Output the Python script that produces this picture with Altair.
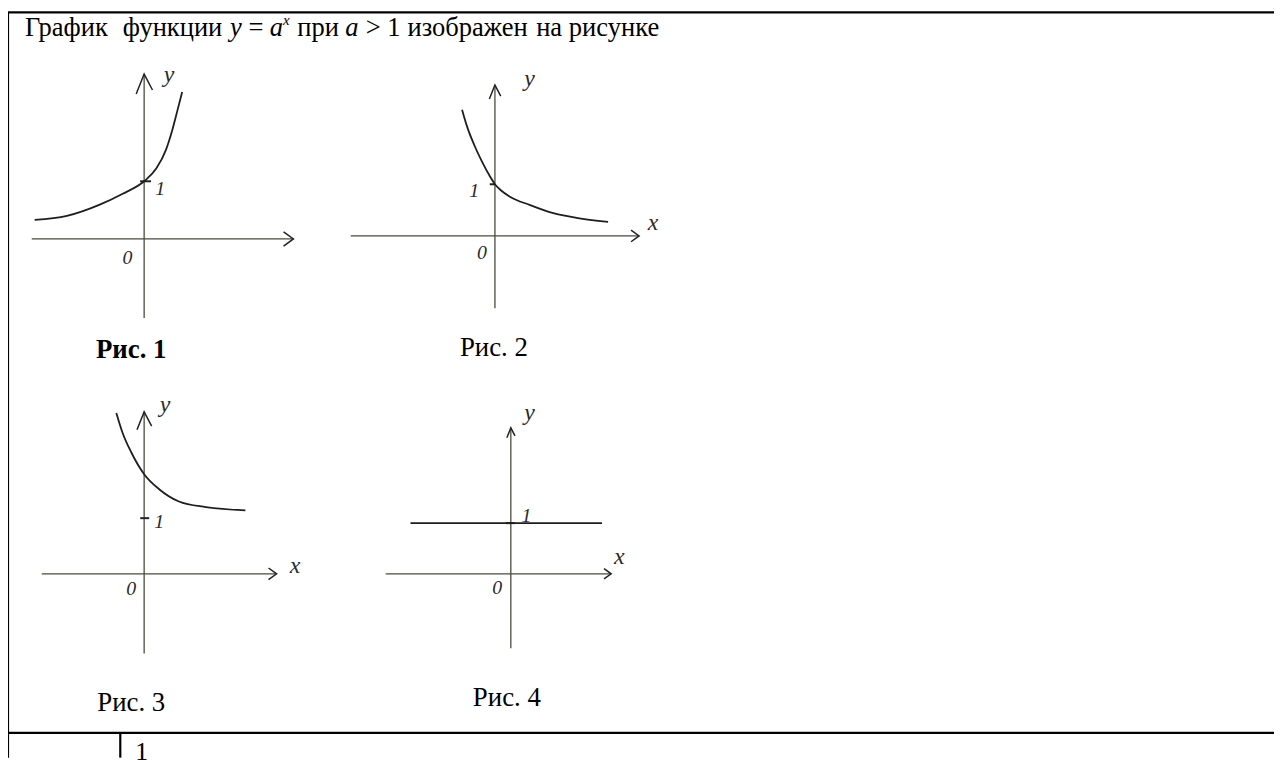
import altair as alt
import pandas as pd

# ---------------- data ----------------
# curve points of each sketch, in the sketch's own units (1 = the "1" mark on the y axis)
fig1_x = [-1.90, -1.34, -0.78, -0.38, 0.00, 0.21, 0.38, 0.48, 0.57, 0.66]
fig1_y = [0.33, 0.40, 0.59, 0.78, 1.00, 1.22, 1.55, 1.86, 2.20, 2.55]
fig2_x = [-0.635, -0.54, -0.40, -0.25, -0.10, 0.00, 0.12, 0.29, 0.67, 1.13, 1.58, 2.19]
fig2_y = [2.44, 2.12, 1.76, 1.44, 1.16, 1.00, 0.88, 0.76, 0.60, 0.44, 0.35, 0.27]
fig3_x = [-0.50, -0.39, -0.23, 0.00, 0.27, 0.625, 1.11, 1.82]
fig3_y = [2.89, 2.54, 2.18, 1.79, 1.52, 1.30, 1.20, 1.14]
fig4_x = [-1.98, 1.80]
fig4_y = [1.00, 1.00]

# axis extents of each sketch
axis_x_min = [-1.95, -2.79, -1.84, -2.47]
axis_x_max = [2.59, 2.79, 2.38, 1.98]
axis_y_min = [-1.37, -1.40, -1.43, -1.47]
axis_y_max = [2.86, 2.92, 2.91, 2.88]

# short mark at y = 1 on each y axis
tick_x0 = [-0.07, -0.10, -0.07, -0.10]
tick_x1 = [0.12, 0.00, 0.09, 0.08]

# hand-written labels
label_fig = [0, 0, 0, 1, 1, 1, 1, 2, 2, 2, 2, 3, 3, 3, 3]
label_text = ["1", "0", "y", "1", "0", "y", "x", "1", "0", "y", "x", "1", "0", "y", "x"]
label_x = [0.28, -0.29, 0.43, -0.40, -0.25, 0.67, 3.06, 0.27, -0.23, 0.375, 2.71, 0.31, -0.27, 0.37, 2.14]
label_y = [0.86, -0.34, 2.84, 0.87, -0.33, 3.04, 0.25, 0.93, -0.27, 3.04, 0.14, 1.14, -0.29, 3.18, 0.33]

captions = ["Рис. 1", "Рис. 2", "Рис. 3", "Рис. 4"]

title_words = ["График", "функции", "y", "=", "a", "x", "при", "a", ">", "1",
               "изображен", "на", "рисунке"]
title_kind = ["r", "r", "i", "r", "i", "s", "r", "i", "r", "r", "r", "r", "r"]
answer_text = ["1"]

# ---------------- page layout (px) ----------------
origin_x = [145, 498, 145, 514]
origin_y = [238, 235, 575, 575]
unit = [58, 52, 56, 51]
up_arrow_r = [20, 14, 18, 10]
right_arrow_r = [11, 9, 9, 8]
caption_x = [132, 497, 132, 510]
caption_y = [350, 348, 705, 700]
title_x = [25, 123.6, 231.4, 249.9, 271.5, 284.8, 299.2, 347.5, 368, 389.6, 410.1, 539.5, 572.4]
title_base = 34
table_lines = [  # x, y, x2, y2
    (7, 10, 1282, 10),
    (8, 10, 8, 760),
    (8, 735, 1282, 735),
    (121, 735, 121, 760),
]

W, H = 1274, 752
X = dict(scale=alt.Scale(domain=[8, 8 + W], nice=False, zero=False), axis=None)
Y = dict(scale=alt.Scale(domain=[8, 8 + H], nice=False, zero=False, reverse=True), axis=None)


def px(i, x):
    return origin_x[i] + x * unit[i]


def py(i, y):
    return origin_y[i] - y * unit[i]


# curves
curve_sets = [(fig1_x, fig1_y), (fig2_x, fig2_y), (fig3_x, fig3_y), (fig4_x, fig4_y)]
rows = []
for i, (xs, ys) in enumerate(curve_sets):
    for k, (a, b) in enumerate(zip(xs, ys)):
        rows.append({"fig": i, "k": k, "px": px(i, a), "py": py(i, b)})
curves = pd.DataFrame(rows)

# axes
rows = []
for i in range(4):
    rows.append({"px": px(i, axis_x_min[i]), "py": py(i, 0), "px2": px(i, axis_x_max[i]), "py2": py(i, 0)})
    rows.append({"px": px(i, 0), "py": py(i, axis_y_min[i]), "px2": px(i, 0), "py2": py(i, axis_y_max[i])})
axes = pd.DataFrame(rows)

ticks = pd.DataFrame([{"px": px(i, tick_x0[i]), "px2": px(i, tick_x1[i]), "py": py(i, 1), "py2": py(i, 1)}
                      for i in range(4)])

UP = "M-0.4,1L0,0L0.42,0.8"
RIGHT = "M-0.9,-0.65L0,0L-0.9,0.65"
arrows = pd.DataFrame(
    [{"px": px(i, 0), "py": py(i, axis_y_max[i]), "shape": UP, "size": 4 * up_arrow_r[i] ** 2} for i in range(4)]
    + [{"px": px(i, axis_x_max[i]), "py": py(i, 0), "shape": RIGHT, "size": 4 * right_arrow_r[i] ** 2} for i in range(4)]
)

labels = pd.DataFrame([{"px": px(f, a), "py": py(f, b), "t": t, "fs": 20 if t.isdigit() else 24}
                       for f, t, a, b in zip(label_fig, label_text, label_x, label_y)])

caps = pd.DataFrame({"px": caption_x, "py": caption_y, "t": captions})

title = pd.DataFrame({"px": title_x, "py": [title_base] * len(title_x), "t": title_words, "kind": title_kind})

lines = pd.DataFrame(table_lines, columns=["px", "py", "px2", "py2"])

answer = pd.DataFrame({"px": [136], "py": [741], "t": answer_text})

SERIF = "Liberation Serif"

table_layer = alt.Chart(lines).mark_rule(color="black", strokeWidth=2.2).encode(
    x=alt.X("px:Q", **X), y=alt.Y("py:Q", **Y), x2="px2:Q", y2="py2:Q")

axes_layer = alt.Chart(axes).mark_rule(color="#4a4a3c", strokeWidth=1.3).encode(
    x=alt.X("px:Q", **X), y=alt.Y("py:Q", **Y), x2="px2:Q", y2="py2:Q")

ticks_layer = alt.Chart(ticks).mark_rule(color="#222", strokeWidth=2).encode(
    x=alt.X("px:Q", **X), y=alt.Y("py:Q", **Y), x2="px2:Q", y2="py2:Q")

curve_layer = alt.Chart(curves).mark_line(color="#1e1e1e", strokeWidth=1.8, interpolate="monotone").encode(
    x=alt.X("px:Q", **X), y=alt.Y("py:Q", **Y), detail="fig:N", order="k:Q")

arrow_layer = alt.Chart(arrows).mark_point(filled=False, color="#222", strokeWidth=1.5, opacity=1).encode(
    x=alt.X("px:Q", **X), y=alt.Y("py:Q", **Y),
    shape=alt.Shape("shape:N", scale=None), size=alt.Size("size:Q", scale=None))

label_layer = alt.Chart(labels).mark_text(font=SERIF, fontStyle="italic", color="#2a2a2a",
                                          align="center", baseline="middle").encode(
    x=alt.X("px:Q", **X), y=alt.Y("py:Q", **Y), text="t:N", size=alt.Size("fs:Q", scale=None))

cap_bold = alt.Chart(caps.iloc[[0]]).mark_text(font=SERIF, fontWeight="bold", fontSize=27, color="black",
                                               align="center", baseline="middle").encode(
    x=alt.X("px:Q", **X), y=alt.Y("py:Q", **Y), text="t:N")
cap_reg = alt.Chart(caps.iloc[1:]).mark_text(font=SERIF, fontSize=27, color="black",
                                             align="center", baseline="middle").encode(
    x=alt.X("px:Q", **X), y=alt.Y("py:Q", **Y), text="t:N")

title_reg = alt.Chart(title[title.kind == "r"]).mark_text(font=SERIF, fontSize=26.7, color="black",
                                                          align="left", baseline="alphabetic").encode(
    x=alt.X("px:Q", **X), y=alt.Y("py:Q", **Y), text="t:N")
title_it = alt.Chart(title[title.kind == "i"]).mark_text(font=SERIF, fontStyle="italic", fontSize=26.7,
                                                         color="black", align="left",
                                                         baseline="alphabetic").encode(
    x=alt.X("px:Q", **X), y=alt.Y("py:Q", **Y), text="t:N")
title_sup = alt.Chart(title[title.kind == "s"]).mark_text(font=SERIF, fontStyle="italic", fontSize=15,
                                                          color="black", align="left",
                                                          baseline="alphabetic", dy=-11).encode(
    x=alt.X("px:Q", **X), y=alt.Y("py:Q", **Y), text="t:N")

answer_layer = alt.Chart(answer).mark_text(font=SERIF, fontSize=26, color="black",
                                           align="left", baseline="top").encode(
    x=alt.X("px:Q", **X), y=alt.Y("py:Q", **Y), text="t:N")

chart = alt.layer(
    table_layer, axes_layer, ticks_layer, curve_layer, arrow_layer, label_layer,
    cap_bold, cap_reg, title_reg, title_it, title_sup, answer_layer
).properties(
    width=W, height=H, padding=0, autosize=alt.AutoSizeParams(type="none"), background="white"
).configure_view(stroke=None)

chart.save("out.html", embed_options={"renderer": "svg", "actions": False})
